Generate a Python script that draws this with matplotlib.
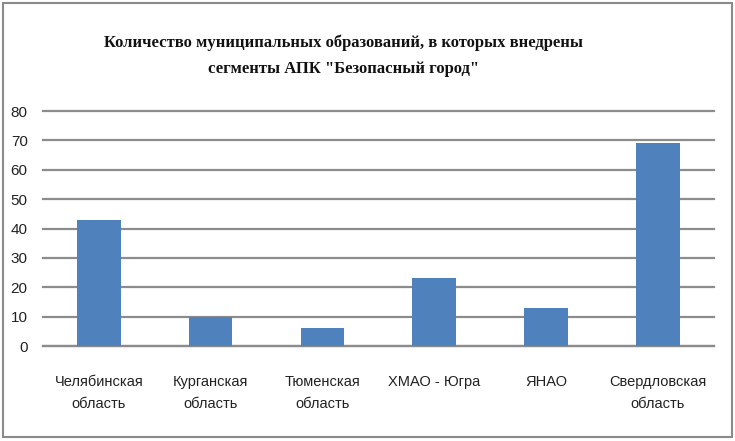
import matplotlib
matplotlib.use("Agg")
from matplotlib import pyplot as plt
from matplotlib.patches import Rectangle

# data
regions = ["Челябинская\nобласть", "Курганская\nобласть", "Тюменская\nобласть",
           "ХМАО - Югра", "ЯНАО", "Свердловская\nобласть"]
counts = [43, 10, 6, 23, 13, 69]
yticks = [0, 10, 20, 30, 40, 50, 60, 70, 80]
title = 'Количество муниципальных образований, в которых внедрены\nсегменты АПК "Безопасный город"'

fig = plt.figure(figsize=(7.35, 4.41), dpi=100)
ax = fig.add_axes([0.0585, 0.2154, 0.9125, 0.5326])

grid_col = "#8c8c8c"
ax.bar(range(len(counts)), counts, width=0.39, color="#4f81bd", zorder=3)
ax.set_xlim(-0.5, len(counts) - 0.5)
ax.set_ylim(0, 80)
ax.set_yticks(yticks)
ax.yaxis.grid(True, color=grid_col, linewidth=1.6, zorder=0)
for gl in ax.get_ygridlines():
    gl.set_clip_on(False)
ax.set_xticks(range(len(counts)))
ax.set_xticklabels(regions, family="Liberation Sans", fontsize=10.5, linespacing=1.75)
for lbl in ax.get_yticklabels():
    lbl.set_family("Liberation Sans")
    lbl.set_fontsize(11)
ax.tick_params(axis="both", length=0, colors="#222222")
ax.tick_params(axis="x", pad=21)
ax.tick_params(axis="y", pad=11)
for side in ["left", "right", "top"]:
    ax.spines[side].set_visible(False)
ax.spines["bottom"].set_color(grid_col)
ax.spines["bottom"].set_linewidth(1.6)

fig.text(0.467, 0.874, title, ha="center", va="center", fontsize=12,
         family="Liberation Serif", weight="bold", linespacing=1.85, color="#111111")

# outer frame of the chart
fig.patches.append(Rectangle((0.004, 0.008), 0.992, 0.986, transform=fig.transFigure,
                             fill=False, edgecolor="#8a8a8a", linewidth=1.5))

fig.savefig("out.png", dpi=100, facecolor="white")
